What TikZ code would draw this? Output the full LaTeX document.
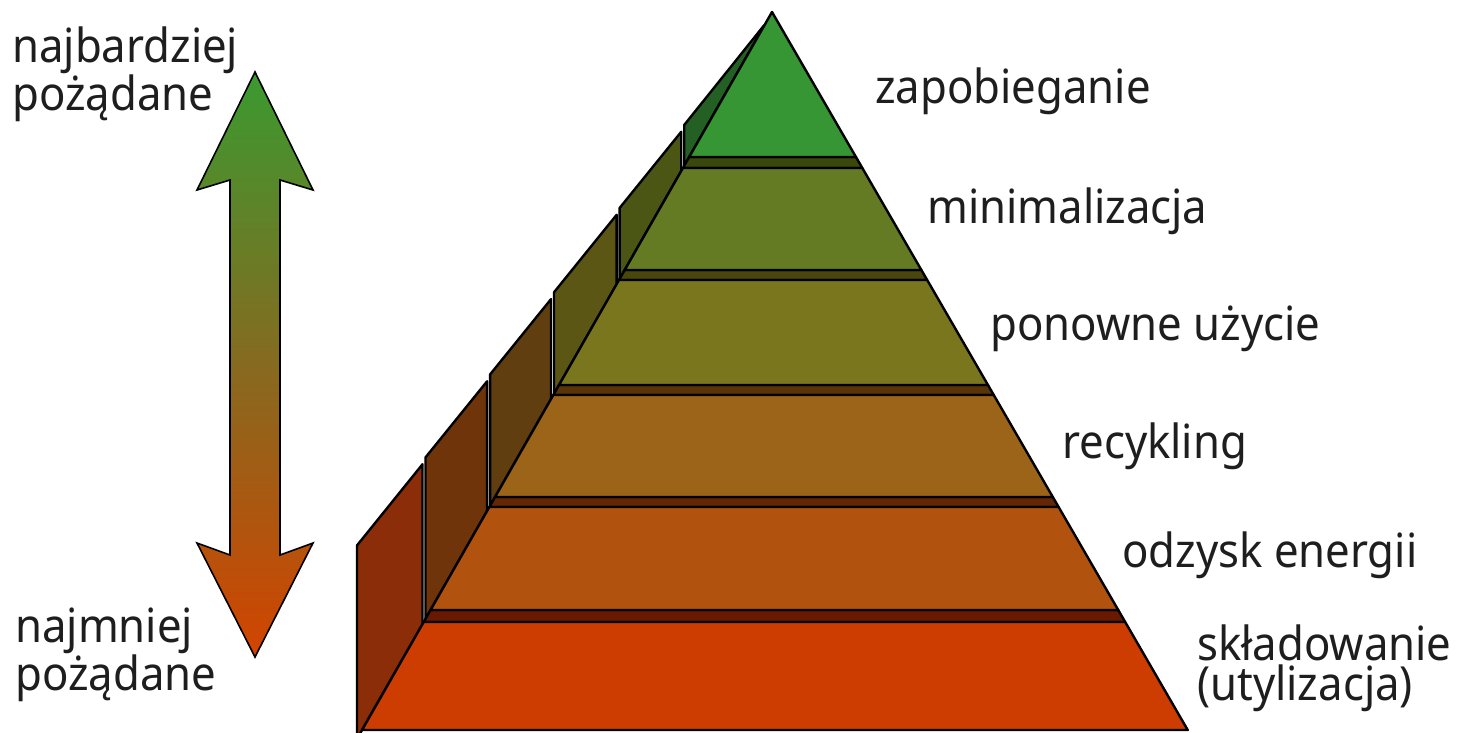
\documentclass[tikz,border=0pt]{standalone}
\usepackage{fontspec}
\setmainfont{Noto Sans}[FakeStretch=0.93]
\definecolor{c1}{RGB}{54,150,52}
\definecolor{c2}{RGB}{100,122,35}
\definecolor{c3}{RGB}{122,118,30}
\definecolor{c4}{RGB}{155,100,25}
\definecolor{c5}{RGB}{178,82,15}
\definecolor{c6}{RGB}{205,60,0}
\definecolor{b2}{RGB}{58,72,12}
\definecolor{b3}{RGB}{75,70,12}
\definecolor{b4}{RGB}{88,52,8}
\definecolor{b5}{RGB}{100,38,5}
\definecolor{b6}{RGB}{105,25,0}
\definecolor{p1}{RGB}{36,96,36}
\definecolor{p2}{RGB}{76,86,20}
\definecolor{p3}{RGB}{92,86,20}
\definecolor{p4}{RGB}{96,62,15}
\definecolor{p5}{RGB}{112,52,10}
\definecolor{p6}{RGB}{140,45,10}
\definecolor{ink}{RGB}{30,30,30}
\definecolor{arrtop}{RGB}{58,154,48}
\definecolor{arrmid}{RGB}{134,106,32}
\definecolor{arrbot}{RGB}{210,68,0}
\begin{document}
\begin{tikzpicture}[x=1pt,y=-1pt,
  outl/.style={draw=black, line width=2.4pt, line join=round},
  lbl/.style={anchor=base west, inner sep=0pt, text=ink, align=left,
    font=\fontsize{47}{40}\selectfont}]
\useasboundingbox (0,0) rectangle (1466,732);
\fill[white] (0,0) rectangle (1466,732);
% side panels
\foreach \b/\f/\c in {12/157/p1,157/270/p2,270/385/p3,385/497/p4,497/610/p5,610/730/p6}{
  \pgfmathsetmacro\xa{772-0.571*(\f-12)-5}
  \pgfmathsetmacro\xb{772-0.571*(\b-12)-8}
  \pgfmathsetmacro\sa{548-1.285*(\xa-355)}
  \pgfmathsetmacro\sb{548-1.285*(\xb-355)+3}
  \pgfmathsetmacro\ya{12+(772-\xa)/0.571}
  \pgfmathsetmacro\yb{12+(772-\xb)/0.571}
  \draw[outl, fill=\c] (\xa,\sa) -- (\xb,\sb) -- (\xb,\yb) -- (\xa,\ya) -- cycle;
}
% bands
\foreach \t/\u/\c in {157/168/b2,270/280/b3,385/395/b4,497/507/b5,610/622/b6}{
  \draw[outl, fill=\c] ({772-0.571*(\t-12)},\t) -- ({772+0.579*(\t-12)},\t)
     -- ({772+0.579*(\u-12)},\u) -- ({772-0.571*(\u-12)},\u) -- cycle;
}
% faces
\foreach \t/\u/\c in {12/157/c1,168/270/c2,280/385/c3,395/497/c4,507/610/c5,622/730/c6}{
  \draw[outl, fill=\c] ({772-0.571*(\t-12)},\t) -- ({772+0.579*(\t-12)},\t)
     -- ({772+0.579*(\u-12)},\u) -- ({772-0.571*(\u-12)},\u) -- cycle;
}
% double arrow
\draw[black, line width=1.6pt, line join=miter, top color=arrtop, bottom color=arrbot, middle color=arrmid]
  (255,72) -- (313,190) -- (280,180) -- (280,555) -- (313,543) -- (255,657)
  -- (197,543) -- (230,555) -- (230,180) -- (197,190) -- cycle;
% labels
\node[lbl] (l1) at (875,103) {zapobieganie};
\node[lbl] (l2) at (927,223) {minimalizacja};
\node[lbl] (l3) at (990,340) {ponowne użycie};
\node[lbl] (l4) at (1062,458) {recykling};
\node[lbl] (l5) at (1122,567) {odzysk energii};
\node[lbl] (l6) at (1197,700) {składowanie\\(utylizacja)};
\node[lbl] (most) at (12,110) {najbardziej\\pożądane};
\node[lbl] (least) at (15,690) {najmniej\\pożądane};
\end{tikzpicture}
\end{document}
